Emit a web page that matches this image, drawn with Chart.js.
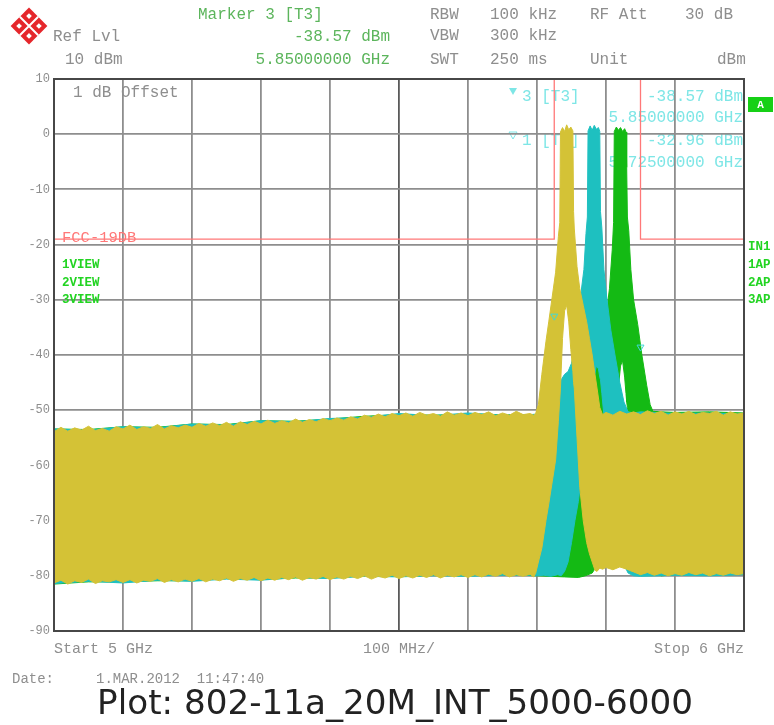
<!DOCTYPE html>
<html><head><meta charset="utf-8">
<script src="https://cdn.jsdelivr.net/npm/chart.js@4.4.1/dist/chart.umd.min.js"></script>
<style>html,body{margin:0;padding:0;background:#fff;overflow:hidden}canvas{display:block}</style>
</head><body>
<canvas id="c" width="774" height="725"></canvas>
<script>
// ---------- DATA (MHz, dBm) ----------
const yellowFreq = [5000,5010,5020,5030,5040,5050,5060,5070,5080,5090,
5100,5110,5120,5130,5140,5150,5160,5170,5180,5190,
5200,5210,5220,5230,5240,5250,5260,5270,5280,5290,
5300,5310,5320,5330,5340,5350,5360,5370,5380,5390,
5400,5410,5420,5430,5440,5450,5460,5470,5480,5490,
5500,5510,5520,5530,5540,5550,5560,5570,5580,5590,
5600,5610,5620,5630,5640,5650,5660,5670,5680,5690,
5695,5698,5702,5707,5713,5717,5722,5727,5731,5733,5734,5737,5740,5743,5746,5749,5752,5753,5754,5758,5762,5767,5772,5776,5780,5784,5787,5791,5795,
5800,5810,5820,5830,5840,5850,5860,5870,5880,5890,5900,5910,5920,5930,5940,5950,5960,5970,5980,5990,6000];
const yellowMax = [-53.9,-53.1,-53.8,-53.2,-53.6,-52.9,-53.7,-53.3,-53.8,-53.0,
-53.4,-52.7,-53.5,-53.0,-53.3,-52.6,-53.4,-52.8,-53.2,-52.7,
-53.1,-52.4,-52.9,-52.3,-52.8,-52.2,-52.9,-52.1,-52.6,-52.0,
-52.5,-51.8,-52.4,-51.9,-52.3,-51.6,-52.2,-51.7,-52.1,-51.5,
-51.9,-51.4,-51.8,-51.2,-51.6,-50.9,-51.3,-50.7,-51.2,-50.6,
-51.0,-50.5,-51.1,-50.4,-50.9,-50.6,-51.1,-50.3,-50.9,-50.5,
-51.0,-50.4,-50.8,-50.3,-51.0,-50.5,-50.9,-50.2,-50.8,-50.6,
-50.9,-50.6,-49.0,-43.5,-37.5,-34.0,-29.5,-25.0,-18.5,-16.0,0.4,1.2,0.5,1.7,0.8,1.3,0.6,-14.0,-17.0,-24.0,-28.0,-31.0,-34.0,-37.0,-40.0,-43.5,-46.0,-49.5,-50.8,
-50.4,-50.9,-50.2,-50.7,-50.3,-50.8,-50.1,-50.6,-50.2,-50.9,-50.3,-50.7,-50.2,-50.8,-50.4,-50.6,-50.2,-50.9,-50.3,-50.7,-50.5];
const yellowMin = [-81.3,-80.8,-81.5,-80.9,-81.2,-80.6,-81.4,-80.9,-81.1,-80.7,
-81.2,-80.7,-81.3,-80.8,-81.0,-80.5,-81.2,-80.7,-81.1,-80.6,
-81.0,-80.5,-81.1,-80.6,-80.9,-80.4,-81.0,-80.5,-80.8,-80.3,
-80.9,-80.4,-80.8,-80.3,-80.7,-80.2,-80.8,-80.3,-80.6,-80.1,
-80.7,-80.2,-80.6,-80.1,-80.5,-80.0,-80.6,-80.1,-80.4,-79.9,
-80.5,-80.0,-80.4,-79.9,-80.3,-79.8,-80.4,-79.9,-80.2,-79.8,
-80.3,-79.8,-80.2,-79.7,-80.1,-79.6,-80.2,-79.8,-80.1,-79.7,
-80.2,-79.6,-77.5,-75.0,-70.0,-67.0,-63.0,-59.0,-52.0,-48.0,-46.0,-37.0,-32.0,-31.0,-34.0,-39.0,-43.0,-45.0,-46.0,-55.0,-64.0,-70.0,-74.0,-76.0,-77.5,-79.0,-79.2,-78.6,-78.8,
-78.5,-78.9,-78.4,-78.8,-79.3,-79.8,-79.4,-79.9,-79.5,-80.0,-79.6,-79.9,-79.4,-79.8,-79.5,-80.0,-79.6,-79.9,-79.5,-79.8,-79.6];

const cyanFreq = [5000,5050,5100,5150,5200,5250,5300,5350,5400,5450,5500,5550,5600,5650,
5690,5700,5710,5720,5730,5735,5740,5745,5750,5755,5760,5764,5768,5771,5773,5774,5777,5780,5783,5786,5789,5791,5792,5794,5797,5801,5807,5813,5820,5826,5832,5840,5850,
5900,5950,6000];
const cyanMax = [-53.4,-53.6,-53.0,-53.2,-52.5,-52.7,-51.9,-52.1,-51.5,-51.3,-50.6,-51.0,-50.5,-50.9,
-50.8,-50.7,-50.0,-49.0,-46.5,-44.5,-43.5,-43.0,-41.5,-38.5,-33.0,-28.5,-24.5,-18.0,-15.0,0.6,1.5,0.7,1.6,0.9,1.2,0.5,-14.0,-17.0,-24.5,-29.5,-35.5,-40.0,-45.0,-48.5,-50.3,-50.5,-50.3,
-50.6,-50.5,-50.7];
const cyanMin = [-81.4,-81.0,-81.3,-80.8,-81.0,-80.6,-80.8,-80.3,-80.5,-80.1,-80.2,-80.0,-80.1,-79.9,
-79.9,-80.0,-79.9,-80.1,-79.8,-80.0,-79.2,-77.5,-74.0,-70.0,-66.5,-62.5,-58.5,-55.5,-53.5,-52.5,-49.5,-47.0,-44.0,-42.0,-42.5,-44.0,-44.5,-47.0,-51.0,-56.0,-64.0,-70.0,-75.0,-78.0,-79.5,-80.0,-80.1,
-79.9,-80.0,-79.8];

const greenFreq = [5000,5050,5100,5150,5200,5250,5300,5350,5400,5450,5500,5550,5600,5650,5700,
5740,5760,5770,5780,5785,5790,5795,5800,5805,5809,5811,5812,5815,5818,5821,5824,5827,5829,5830,5831,5833,5836,5840,5846,5852,5859,5864,5868,5880,
5900,5950,6000];
const greenMax = [-53.4,-53.5,-53.0,-53.1,-52.5,-52.6,-51.9,-52.0,-51.6,-51.1,-50.8,-50.9,-50.7,-50.8,-50.9,
-50.6,-49.5,-47.5,-44.5,-42.0,-40.0,-37.5,-33.0,-28.0,-21.0,-16.0,0.5,1.3,0.7,1.2,0.5,1.0,0.4,-6.0,-15.0,-17.5,-24.5,-30.0,-34.5,-40.0,-45.5,-49.0,-50.2,-50.3,
-50.4,-50.3,-50.5];
const greenMin = [-81.5,-81.1,-81.1,-80.9,-80.9,-80.5,-80.7,-80.4,-80.4,-80.0,-80.1,-79.9,-80.0,-79.8,-80.0,
-80.2,-80.3,-80.0,-79.5,-78.5,-76.5,-74.0,-71.0,-67.0,-62.0,-59.0,-57.0,-51.0,-46.0,-42.0,-41.0,-44.0,-47.0,-48.5,-49.5,-53.0,-57.5,-62.0,-68.0,-73.0,-76.5,-78.5,-79.5,-80.0,
-79.8,-79.9,-79.7];

const limitFreq = [5000, 5725, 5725, 5850, 5850, 6000];
const limitLevel = [-19, -19, 10, 10, -19, -19];
const markerFreq = [5725, 5850];
const markerLevel = [-32.96, -38.57];

const xTickValues = [5000,5100,5200,5300,5400,5500,5600,5700,5800,5900,6000];
const xTickLabels = {5000:'Start 5 GHz', 5500:'100 MHz/', 6000:'Stop 6 GHz'};
const yTickValues = [-90,-80,-70,-60,-50,-40,-30,-20,-10,0,10];

// ---------- STYLE ----------
const COL = {yellow:'#d4c236', cyan:'#1ec0c0', green:'#14ba14'};
const MONO = '"Liberation Mono","DejaVu Sans Mono",monospace';
const GRAY = '#8e8e8e', HGREEN = '#5cb55c', CYANT = '#7ee6e6', VGREEN = '#22d422', RED = '#ff7878';

const pts = (f, v) => f.map((x, i) => ({x, y: v[i]}));
function band(f, mx, mn, c) {
  return [
    {data: pts(f, mx), borderColor: c, backgroundColor: c, borderWidth: 1, pointRadius: 0, fill: '+1', tension: 0},
    {data: pts(f, mn), borderColor: c, backgroundColor: c, borderWidth: 1, pointRadius: 0, fill: false, tension: 0}
  ];
}
function txt(ctx, s, x, y, size, color, align, weight) {
  ctx.font = (weight || 'normal') + ' ' + size + 'px ' + MONO;
  ctx.fillStyle = color; ctx.textAlign = align || 'left'; ctx.textBaseline = 'middle';
  ctx.fillText(s, x, y);
}
function tri(ctx, x, y, filled, color) {
  ctx.beginPath(); ctx.moveTo(x - 4, y - 3); ctx.lineTo(x + 4, y - 3); ctx.lineTo(x, y + 4); ctx.closePath();
  if (filled) { ctx.fillStyle = color; ctx.fill(); } else { ctx.strokeStyle = color; ctx.lineWidth = 1; ctx.stroke(); }
}

const decor = {
  id: 'decor',
  beforeDraw(chart) {
    const ctx = chart.ctx; ctx.save();
    tri(ctx, 513, 91, true, CYANT);
    txt(ctx, '3 [T3]', 522, 97, 16, CYANT);
    txt(ctx, '-38.57 dBm', 743, 97, 16, CYANT, 'right');
    txt(ctx, '5.85000000 GHz', 743, 118, 16, CYANT, 'right');
    tri(ctx, 513, 135, false, CYANT);
    txt(ctx, '1 [T1]', 522, 141, 16, CYANT);
    txt(ctx, '-32.96 dBm', 743, 141, 16, CYANT, 'right');
    txt(ctx, '5.72500000 GHz', 743, 163, 16, CYANT, 'right');
    txt(ctx, '1 dB Offset', 73, 93, 16, GRAY);
    ctx.restore();
  },
  afterDatasetsDraw(chart) {
    const ctx = chart.ctx, a = chart.chartArea; ctx.save();
    ctx.strokeStyle = '#474747'; ctx.lineWidth = 2;
    ctx.strokeRect(a.left, a.top, a.right - a.left, a.bottom - a.top);
    ctx.restore();
  },
  afterDraw(chart) {
    const ctx = chart.ctx; ctx.save();
    // logo
    ctx.save(); ctx.translate(29, 26); ctx.rotate(Math.PI / 4);
    ctx.fillStyle = '#e5262b'; ctx.fillRect(-13, -13, 26, 26);
    ctx.strokeStyle = '#fff'; ctx.lineWidth = 2;
    ctx.beginPath(); ctx.moveTo(-13, 0); ctx.lineTo(13, 0); ctx.moveTo(0, -13); ctx.lineTo(0, 13); ctx.stroke();
    ctx.fillStyle = '#fff';
    [[-7,-7],[7,-7],[-7,7],[7,7]].forEach(p => ctx.fillRect(p[0] - 2, p[1] - 2, 4, 4));
    ctx.restore();
    // header
    txt(ctx, 'Marker 3 [T3]', 198, 15, 16, HGREEN);
    txt(ctx, 'Ref Lvl', 53, 37, 16, GRAY);
    txt(ctx, '-38.57 dBm', 390, 37, 16, HGREEN, 'right');
    txt(ctx, '10 dBm', 65, 60, 16, GRAY);
    txt(ctx, '5.85000000 GHz', 390, 60, 16, HGREEN, 'right');
    txt(ctx, 'RBW', 430, 15, 16, GRAY); txt(ctx, '100 kHz', 490, 15, 16, GRAY);
    txt(ctx, 'RF Att', 590, 15, 16, GRAY); txt(ctx, '30 dB', 685, 15, 16, GRAY);
    txt(ctx, 'VBW', 430, 36, 16, GRAY); txt(ctx, '300 kHz', 490, 36, 16, GRAY);
    txt(ctx, 'SWT', 430, 60, 16, GRAY); txt(ctx, '250 ms', 490, 60, 16, GRAY);
    txt(ctx, 'Unit', 590, 60, 16, GRAY); txt(ctx, 'dBm', 717, 60, 16, GRAY);
    // in-plot labels
    txt(ctx, 'FCC-19DB', 62, 238, 15.5, RED);
    txt(ctx, '1VIEW', 62, 265, 12.5, VGREEN, 'left', 'bold');
    txt(ctx, '2VIEW', 62, 283, 12.5, VGREEN, 'left', 'bold');
    txt(ctx, '3VIEW', 62, 300, 12.5, VGREEN, 'left', 'bold');
    txt(ctx, 'IN1', 748, 247, 12.5, VGREEN, 'left', 'bold');
    txt(ctx, '1AP', 748, 265, 12.5, VGREEN, 'left', 'bold');
    txt(ctx, '2AP', 748, 283, 12.5, VGREEN, 'left', 'bold');
    txt(ctx, '3AP', 748, 300, 12.5, VGREEN, 'left', 'bold');
    ctx.fillStyle = '#16d016'; ctx.fillRect(748, 97, 25, 15);
    txt(ctx, 'A', 760.5, 105, 11, '#ffffff', 'center', 'bold');
    // footer
    txt(ctx, 'Date:', 12, 679, 14, GRAY);
    txt(ctx, '1.MAR.2012  11:47:40', 96, 679, 14, GRAY);
    const title = 'Plot: 802-11a_20M_INT_5000-6000';
    ctx.font = '100px "DejaVu Sans"';
    const w = ctx.measureText(title).width;
    const size = 100 * 596 / w;
    ctx.font = size + 'px "DejaVu Sans"'; ctx.fillStyle = '#222222';
    ctx.textAlign = 'center'; ctx.textBaseline = 'middle';
    ctx.fillText(title, 395, 705);
    ctx.restore();
  }
};

new Chart(document.getElementById('c'), {
  type: 'line',
  data: {
    datasets: [
      {data: pts(markerFreq, markerLevel), showLine: false, pointStyle: 'triangle', rotation: 180, pointRadius: 4,
       pointBorderColor: '#40d8d8', pointBackgroundColor: 'rgba(0,0,0,0)', pointBorderWidth: 1, borderColor: '#40d8d8'},
      {data: pts(limitFreq, limitLevel), borderColor: RED, borderWidth: 1.3, pointRadius: 0, fill: false, tension: 0},
      ...band(yellowFreq, yellowMax, yellowMin, COL.yellow),
      ...band(cyanFreq, cyanMax, cyanMin, COL.cyan),
      ...band(greenFreq, greenMax, greenMin, COL.green)
    ]
  },
  options: {
    responsive: false, animation: false, devicePixelRatio: 1,
    layout: {padding: {left: 0, top: 79, right: 30, bottom: 64}},
    plugins: {legend: {display: false}, tooltip: {enabled: false}, title: {display: false}},
    scales: {
      x: {
        type: 'linear', min: 5000, max: 6000,
        afterBuildTicks: s => { s.ticks = xTickValues.map(v => ({value: v})); },
        afterFit: s => { s.height = 30; },
        ticks: {autoSkip: false, maxRotation: 0, minRotation: 0, align: 'inner', padding: 9, color: GRAY,
                font: {family: MONO, size: 15}, callback: v => xTickLabels[v] || ''},
        grid: {drawTicks: false, lineWidth: 1.8, color: c => (c.tick && c.tick.value === 5500) ? '#5a5a5a' : '#8e8e8e'},
        border: {display: false}
      },
      y: {
        min: -90, max: 10,
        afterBuildTicks: s => { s.ticks = yTickValues.map(v => ({value: v})); },
        afterFit: s => { s.width = 54; },
        ticks: {padding: 4, color: GRAY, font: {family: MONO, size: 12}, callback: v => String(v)},
        grid: {drawTicks: false, lineWidth: 1.8, color: '#8e8e8e'},
        border: {display: false}
      }
    }
  },
  plugins: [decor]
});
</script>
</body></html>
